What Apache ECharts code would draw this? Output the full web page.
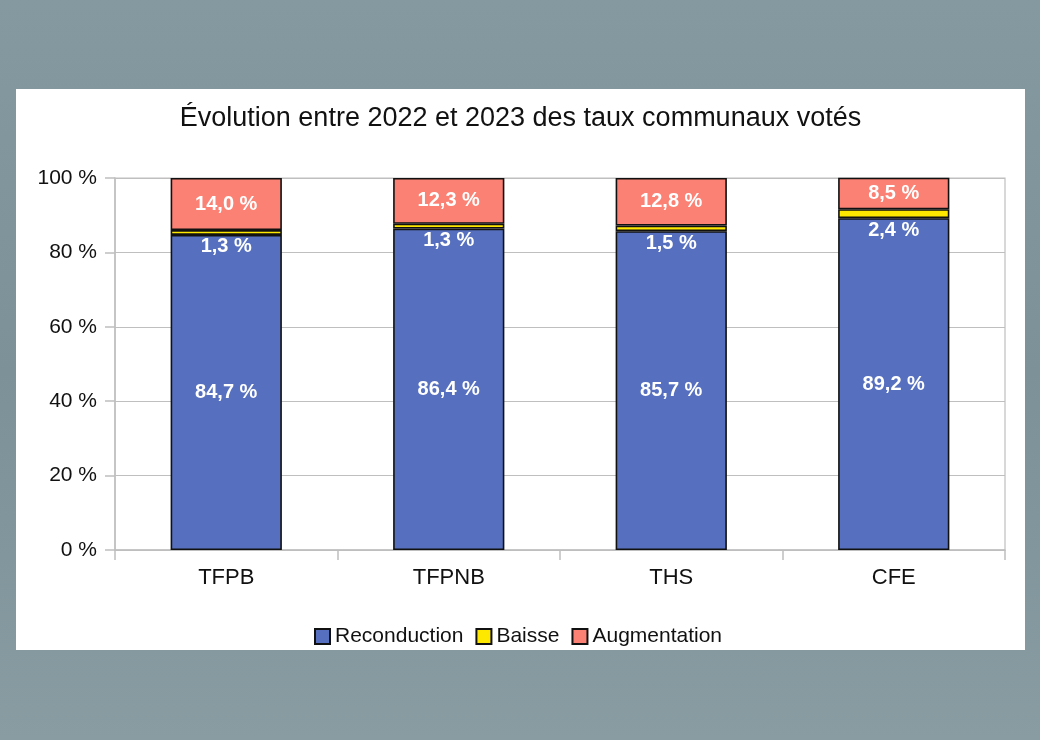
<!DOCTYPE html>
<html><head><meta charset="utf-8">
<script src="https://cdn.jsdelivr.net/npm/echarts@6/dist/echarts.min.js"></script>
<style>
html,body{margin:0;padding:0;width:1040px;height:740px;overflow:hidden;background:#7f959b;}
#bg{position:absolute;left:0;top:0;width:1040px;height:740px;background:linear-gradient(180deg,#8499a0 0%,#7c9298 50%,#889ca2 100%);}
#c{position:absolute;left:16px;top:89px;width:1009px;height:561px;background:#fff;}
</style></head><body>
<div id="bg"></div>
<div id="c"></div>
<script>
const categories = ['TFPB','TFPNB','THS','CFE'];
const reconduction = [84.7, 86.4, 85.7, 89.2];
const baisse = [1.3, 1.3, 1.5, 2.4];
const augmentation = [14.0, 12.3, 12.8, 8.5];
const yTicks = [0,20,40,60,80,100];

const FF = 'Liberation Sans, Arial, sans-serif';
const fmt = v => v.toFixed(1).replace('.', ',') + ' %';
const labelBase = {show:true,color:'#fff',fontWeight:'bold',fontSize:20,fontFamily:FF,formatter:p=>fmt(p.value)};
const chart = echarts.init(document.getElementById('c'));
chart.setOption({
  animation:false,
  backgroundColor:'#fff',
  title:{text:'Évolution entre 2022 et 2023 des taux communaux votés',left:'center',top:11,
    textStyle:{fontFamily:FF,fontWeight:'normal',fontSize:27,color:'#111'}},
  legend:{left:293,top:532,itemWidth:15,itemHeight:15,itemGap:12,icon:'rect',
    textStyle:{fontFamily:FF,fontSize:21,color:'#111'},
    data:['Reconduction','Baisse','Augmentation']},
  grid:{left:99,right:20,top:89,bottom:100,show:true,borderColor:'#bfbfbf',borderWidth:1.2},
  xAxis:{type:'category',data:categories,
    axisLine:{lineStyle:{color:'#bfbfbf',width:1.5}},
    axisTick:{show:true,length:10,lineStyle:{color:'#bfbfbf',width:1.5}},
    axisLabel:{color:'#111',fontSize:22,margin:17,fontFamily:FF}},
  yAxis:{type:'value',min:0,max:100,interval:20,
    axisLine:{show:true,lineStyle:{color:'#bfbfbf',width:1.5}},
    axisTick:{show:true,length:10,lineStyle:{color:'#bfbfbf',width:1.5}},
    splitLine:{lineStyle:{color:'#bfbfbf',width:1.2}},
    axisLabel:{color:'#111',fontSize:21,margin:18,fontFamily:FF,
      formatter:v=>yTicks.includes(v)?v+' %':''}},
  series:[
    {name:'Reconduction',type:'bar',stack:'s',barWidth:'50%',data:reconduction,
      itemStyle:{color:'#5670bf',borderColor:'#111',borderWidth:1.6},
      label:Object.assign({},labelBase,{position:'inside'})},
    {name:'Baisse',type:'bar',stack:'s',data:baisse,
      itemStyle:{color:'#ffe800',borderColor:'#111',borderWidth:1.6},
      label:Object.assign({},labelBase,{position:'bottom',distance:2})},
    {name:'Augmentation',type:'bar',stack:'s',data:augmentation,
      itemStyle:{color:'#fa8173',borderColor:'#111',borderWidth:1.6},
      label:Object.assign({},labelBase,{position:'inside'})}
  ]
});
</script>
</body></html>
